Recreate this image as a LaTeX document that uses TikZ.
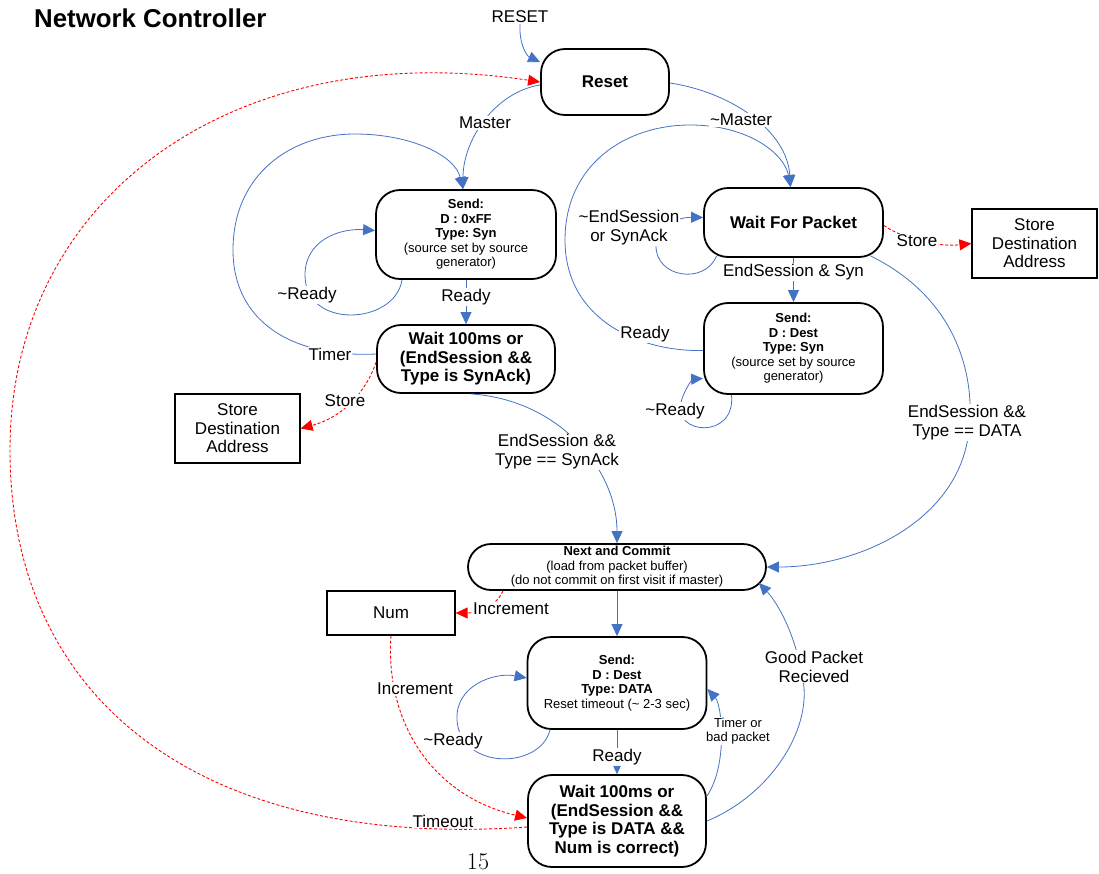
\documentclass[tikz,border=0pt]{standalone}
\usepackage{fontspec}
\newfontfamily\arialf{Liberation Sans}
\usetikzlibrary{arrows.meta}
\definecolor{flowblue}{RGB}{68,114,196}
\frenchspacing
\tikzset{
  state/.style={draw=black, line width=1.8pt, rounded corners=24pt, align=center, inner sep=2pt},
  bigtxt/.style={font=\arialf\bfseries\fontsize{17}{18.5}\selectfont},
  smalltxt/.style={font=\arialf\fontsize{13}{14.5}\selectfont},
  memo/.style={draw=black, line width=1.2pt, align=center, font=\arialf\fontsize{17}{18.5}\selectfont},
  lbl/.style={fill=white, inner sep=1pt, align=center, font=\arialf\fontsize{17}{19}\selectfont},
  slbl/.style={fill=white, inner sep=1pt, align=center, font=\arialf\fontsize{13}{14.5}\selectfont},
  bluarr/.style={draw=flowblue, line width=0.8pt, -{Triangle[length=12pt,width=11pt]}},
  redarr/.style={draw=red, line width=0.9pt, dash pattern=on 3pt off 2pt, -{Triangle[length=12pt,width=11pt]}},
}
\begin{document}
\begin{tikzpicture}[x=1pt,y=-1pt]
\path[use as bounding box] (0,0) rectangle (1099,873);

% titles
\node[anchor=west, inner sep=0pt, font=\arialf\bfseries\fontsize{25.8}{28}\selectfont] (title) at (34,18) {Network Controller};
\node[inner sep=1pt, font=\arialf\fontsize{17}{19}\selectfont] (rst) at (520,17) {RESET};
\node[inner sep=0pt, font=\fontsize{24}{26}\selectfont] (page) at (478,862) {15};

% states
\node[state, bigtxt, minimum width=128pt, minimum height=66pt] (reset) at (605,82) {Reset};
\node[state, smalltxt, minimum width=180pt, minimum height=89pt] (snd) at (466,234.5)
  {\textbf{Send:}\\\textbf{D : 0xFF}\\\textbf{Type: Syn}\\(source set by source\\generator)};
\node[state, bigtxt, minimum width=178pt, minimum height=68pt] (wt) at (466,359)
  {Wait 100ms or\\(EndSession \&\&\\Type is SynAck)};
\node[state, bigtxt, minimum width=179pt, minimum height=69pt] (wfp) at (793.5,222.5) {Wait For Packet};
\node[state, smalltxt, minimum width=179pt, minimum height=91pt] (sds) at (793.5,348.5)
  {\textbf{Send:}\\\textbf{D : Dest}\\\textbf{Type: Syn}\\(source set by source\\generator)};
\node[state, smalltxt, rounded corners=23pt, minimum width=298pt, minimum height=46pt] (nc) at (617,567)
  {\textbf{Next and Commit}\\(load from packet buffer)\\(do not commit on first visit if master)};
\node[state, smalltxt, minimum width=179pt, minimum height=92pt] (sdd) at (617,683)
  {\textbf{Send:}\\\textbf{D : Dest}\\\textbf{Type: DATA}\\Reset timeout (\textasciitilde{} 2-3 sec)};
\node[state, bigtxt, minimum width=178pt, minimum height=92pt] (wb) at (617,821)
  {Wait 100ms or\\(EndSession \&\&\\Type is DATA \&\&\\Num is correct)};

% stores
\node[memo, minimum width=125pt, minimum height=69pt] (sdaL) at (237.5,428.5) {Store\\Destination\\Address};
\node[memo, minimum width=125pt, minimum height=69pt] (sdaR) at (1034.5,243.5) {Store\\Destination\\Address};
\node[memo, minimum width=128pt, minimum height=44pt] (num) at (391,613) {Num};

% transitions
\draw[bluarr] (rst.south) .. controls (519,45) and (527,56) .. ([yshift=20pt]reset.west);
\draw[bluarr] ([yshift=-3pt]reset.west) .. controls (495,92) and (463,140) .. ([xshift=-3pt]snd.north);
\draw[bluarr] ([yshift=-1pt]reset.east) .. controls (730,92) and (787,130) .. ([xshift=-3pt]wfp.north);
\draw[bluarr] ([yshift=5pt]wt.west) .. controls (290,358) and (233,320) .. (233,250)
  .. controls (233,175) and (290,134) .. (355,134) .. controls (410,134) and (455,155) .. ([xshift=-3pt]snd.north);
\draw[bluarr] ([xshift=-64pt]snd.south) .. controls (395,325) and (305,330) .. (305,275)
  .. controls (305,240) and (340,228) .. ([yshift=4pt]snd.west);
\draw[bluarr] (snd.south) -- (wt.north);
\draw[redarr] ([yshift=-3pt]wt.west) .. controls (365,395) and (340,418) .. (sdaL.east);
\draw[bluarr] ([xshift=5pt]wt.south) .. controls (560,400) and (617,470) .. (nc.north);

\draw[bluarr] ([xshift=-77pt,yshift=2pt]wfp.south) .. controls (705,285) and (655,278) .. (656,245)
  .. controls (657,225) and (680,217) .. ([yshift=5pt]wfp.west);
\draw[bluarr] (wfp.south) -- (sds.north);
\draw[bluarr] ([yshift=-2pt]sds.west) .. controls (640,352) and (565,320) .. (565,240)
  .. controls (565,165) and (625,125) .. (690,125) .. controls (750,125) and (785,155) .. ([xshift=-3pt]wfp.north);
\draw[bluarr] ([xshift=-62pt]sds.south) .. controls (736,440) and (672,435) .. (681,402)
  .. controls (686,385) and (694,379) .. ([yshift=-30pt]sds.west);
\draw[redarr] ([yshift=-3pt]wfp.east) .. controls (905,240) and (940,247) .. (sdaR.west);
\draw[bluarr] ([xshift=77pt,yshift=2pt]wfp.south) .. controls (960,300) and (975,380) .. (969,430)
  .. controls (960,520) and (860,567) .. (nc.east);

\draw[redarr] ([xshift=-114pt]nc.south) .. controls (497,605) and (480,613) .. (num.east);
\draw[bluarr] (nc.south) -- (sdd.north);
\draw[bluarr] ([xshift=-67pt]sdd.south) .. controls (540,770) and (460,770) .. (457,720)
  .. controls (455,685) and (495,672) .. ([yshift=5pt]sdd.west);
\draw[bluarr] (sdd.south) -- (wb.north);
\draw[bluarr] ([yshift=25pt]wb.east) .. controls (728,765) and (722,705) .. ([yshift=-6pt]sdd.east);
\draw[bluarr] (wb.east) .. controls (770,795) and (812,730) .. (803,680)
  .. controls (795,630) and (775,600) .. ([xshift=-8pt,yshift=-16pt]nc.east);
\draw[redarr] (num.south) .. controls (385,720) and (430,795) .. ([yshift=3pt]wb.west);
\draw[redarr] ([yshift=-6pt]wb.west) .. controls (200,850) and (10,700) .. (10,450)
  .. controls (10,200) and (230,35) .. (reset.west);

% transition labels
\node[lbl] (lMaster) at (485,123) {Master};
\node[lbl] (lNMaster) at (741,120) {\textasciitilde Master};
\node[lbl] (lNReady1) at (307,295) {\textasciitilde Ready};
\node[lbl] (lReady1) at (466,297) {Ready};
\node[lbl] (lTimer) at (330,354) {Timer};
\node[lbl] (lStore1) at (345,401) {Store};
\node[lbl] (lSynAck) at (557,452) {EndSession \&\&\\Type == SynAck};
\node[lbl] (lNEnd) at (629,227.5) {\textasciitilde EndSession\\or SynAck};
\node[lbl] (lEndSyn) at (793.5,272) {EndSession \& Syn};
\node[lbl] (lReady2) at (645,334) {Ready};
\node[lbl] (lNReady2) at (675,411) {\textasciitilde Ready};
\node[lbl] (lStore2) at (917,241) {Store};
\node[lbl] (lData) at (967,422.5) {EndSession \&\&\\Type == DATA};
\node[lbl] (lInc1) at (511,609) {Increment};
\node[lbl] (lInc2) at (415,689) {Increment};
\node[lbl] (lNReady3) at (453,741) {\textasciitilde Ready};
\node[lbl] (lReady3) at (617,757) {Ready};
\node[slbl] (lTimerBad) at (738,731) {Timer or\\bad packet};
\node[lbl] (lGood) at (814,666.5) {Good Packet\\Recieved};
\node[lbl] (lTimeout) at (443,821) {Timeout};
\end{tikzpicture}
\end{document}
